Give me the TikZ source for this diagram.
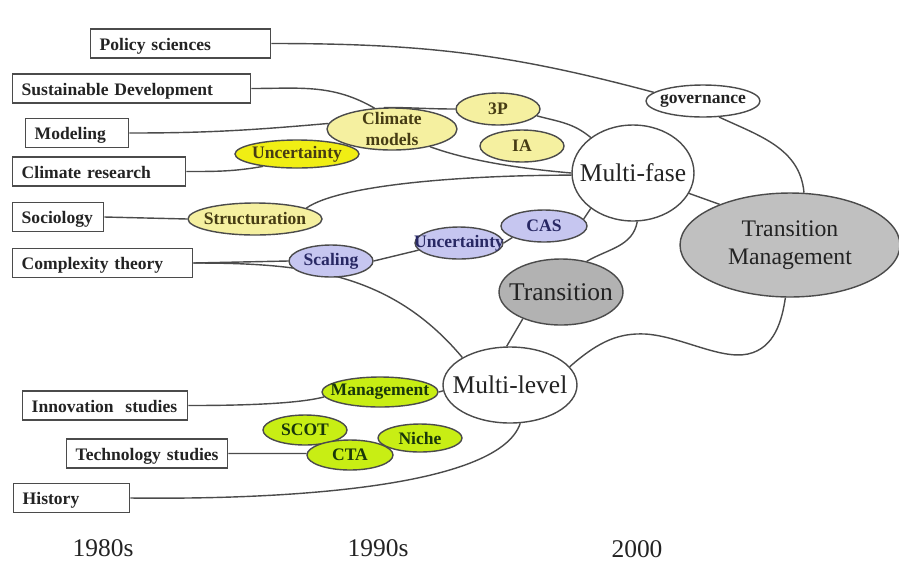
\documentclass[tikz,border=0pt]{standalone}
\usepackage{fontspec}
\setmainfont{Liberation Serif}
\usetikzlibrary{shapes.geometric}
\definecolor{linegray}{RGB}{75,75,75}
\definecolor{boxtext}{RGB}{35,35,35}
\definecolor{paleyellow}{RGB}{245,240,160}
\definecolor{brightyellow}{RGB}{240,238,20}
\definecolor{yellowtext}{RGB}{70,60,20}
\definecolor{lavender}{RGB}{198,198,240}
\definecolor{bluetext}{RGB}{40,40,100}
\definecolor{limegreen}{RGB}{200,238,20}
\definecolor{greentext}{RGB}{25,55,10}
\definecolor{midgray}{RGB}{178,178,178}
\definecolor{palegray}{RGB}{192,192,192}
\pgfdeclarelayer{background}
\pgfsetlayers{background,main}
\tikzset{
    topic/.style={draw=linegray, line width=0.8pt, anchor=west, align=left,
        inner xsep=0.18cm, inner ysep=0pt, minimum height=0.58cm,
        text height=8.6pt, text depth=1pt,
        font=\fontsize{10}{12}\selectfont\bfseries, text=boxtext},
    blob/.style={ellipse, draw=linegray, line width=0.8pt, inner sep=0pt},
    blobtext/.style={font=\fontsize{10}{11.5}\selectfont\bfseries, align=center},
    climblob/.style={blob, fill=paleyellow, label={[blobtext, text=yellowtext]center:#1}},
    hotblob/.style={blob, fill=brightyellow, label={[blobtext, text=yellowtext]center:#1}},
    complexblob/.style={blob, fill=lavender, label={[blobtext, text=bluetext]center:#1}},
    innoblob/.style={blob, fill=limegreen, label={[blobtext, text=greentext]center:#1}},
    plainblob/.style={blob, fill=white, label={[blobtext, text=boxtext]center:#1}},
    hub/.style={blob, label={[font=\fontsize{14.5}{17}\selectfont, align=center, text=boxtext]center:#1}},
    link/.style={draw=linegray, line width=0.8pt},
    year/.style={font=\fontsize{14.5}{17}\selectfont, text=boxtext}
}
\begin{document}
\begin{tikzpicture}[x=0.02cm, y=-0.02cm]
    \useasboundingbox (0,0) rectangle (899,562);
    \node[topic, text width=3.24cm] (policy) at (90,43.5) {Policy sciences};
    \node[topic, text width=4.4cm] (sustdev) at (12,88.5) {Sustainable Development};
    \node[topic, text width=1.7cm] (modeling) at (25,133) {Modeling};
    \node[topic, text width=3.1cm] (climres) at (12,171.5) {Climate research};
    \node[topic, text width=1.46cm] (sociology) at (12,217) {Sociology};
    \node[topic, text width=3.24cm] (complexity) at (12,263) {Complexity theory};
    \node[topic, text width=2.94cm] (innov) at (22,405.5) {Innovation\ \ studies};
    \node[topic, text width=2.86cm] (techstud) at (66,453.5) {Technology studies};
    \node[topic, text width=1.96cm] (history) at (13,498) {History};

    \node[climblob={Climate\\models}, minimum width=2.6cm, minimum height=0.84cm] (climmod) at (392,129) {};
    \node[hotblob={Uncertainty}, minimum width=2.48cm, minimum height=0.56cm] (uncclim) at (297,154) {};
    \node[climblob={3P}, minimum width=1.68cm, minimum height=0.64cm] (threep) at (498,109) {};
    \node[climblob={IA}, minimum width=1.68cm, minimum height=0.64cm] (ia) at (522,146) {};
    \node[climblob={Structuration}, minimum width=2.68cm, minimum height=0.64cm] (struct) at (255,219) {};
    \node[complexblob={Scaling}, minimum width=1.68cm, minimum height=0.64cm] (scaling) at (331,261) {};
    \node[complexblob={Uncertainty}, minimum width=1.76cm, minimum height=0.64cm] (unccas) at (459,243) {};
    \node[complexblob={CAS}, minimum width=1.72cm, minimum height=0.64cm] (cas) at (544,226) {};
    \node[plainblob={governance}, minimum width=2.28cm, minimum height=0.64cm] (gov) at (703,101) {};
    \node[hub={Multi-fase}, fill=white, minimum width=2.44cm, minimum height=1.92cm] (multifase) at (633,173) {};
    \node[blob, fill=palegray, minimum width=4.4cm, minimum height=2.08cm,
        label={[font=\fontsize{13.5}{16}\selectfont, align=center, text=boxtext]center:Transition\\Management}] (transman) at (790,245) {};
    \node[hub={Transition}, fill=midgray, minimum width=2.48cm, minimum height=1.32cm] (transition) at (561,292) {};
    \node[hub={Multi-level}, fill=white, minimum width=2.68cm, minimum height=1.52cm] (multilevel) at (510,385) {};
    \node[innoblob={Management}, minimum width=2.32cm, minimum height=0.6cm] (mgmt) at (380,392) {};
    \node[innoblob={SCOT}, minimum width=1.68cm, minimum height=0.6cm] (scot) at (305,430) {};
    \node[innoblob={CTA}, minimum width=1.72cm, minimum height=0.6cm] (cta) at (350,455) {};
    \node[innoblob={Niche}, minimum width=1.68cm, minimum height=0.56cm] (niche) at (420,438) {};

    \node[year] (eighties) at (103,548) {1980s};
    \node[year] (nineties) at (378,548) {1990s};
    \node[year] (twothousand) at (637,549) {2000};

    \begin{pgfonlayer}{background}
        \draw[link] (policy.east) to[out=0,in=165] (gov.170);
        \draw[link] (sustdev.east) to[out=0,in=150] (climmod.130);
        \draw[link] (climmod.110) to[out=0,in=180] (threep.west);
        \draw[link] (threep.-10) to[out=-15,in=140] (multifase.140);
        \draw[link] (modeling.east) to[out=0,in=185] (climmod.175);
        \draw[link] (climres.east) to[out=0,in=190] (uncclim.200);
        \draw[link] (climmod.-25) to[out=-20,in=175,looseness=0.8] (multifase.west);
        \draw[link] (sociology.east) -- (struct.west);
        \draw[link] (struct.12) to[out=35,in=180,out looseness=0.4] (multifase.182);
        \draw[link] (complexity.east) -- (scaling.west);
        \draw[link] (complexity.east) to[out=0,in=130] (multilevel.150);
        \draw[link] (scaling.east) -- (unccas.190);
        \draw[link] (unccas.east) -- (cas.200);
        \draw[link] (cas.10) -- (multifase.220);
        \draw[link] (multifase.-85) to[out=-100,in=30] (transition.50);
        \draw[link] (multifase.-20) -- (transman.150);
        \draw[link] (gov.-45) to[out=-25,in=95] (transman.75);
        \draw[link] (transition.215) -- (multilevel.95);
        \draw[link] (multilevel.17) .. controls (600,340) and (620,333) .. (645,334)
            .. controls (680,336) and (720,360) .. (748,354)
            .. controls (775,348) and (782,320) .. (transman.265);
        \draw[link] (innov.east) to[out=0,in=195,looseness=0.6] (mgmt.185);
        \draw[link] (mgmt.east) -- (multilevel.185);
        \draw[link] (techstud.east) -- (cta.178);
        \draw[link] (history.east) .. controls (300,500) and (500,485) .. (multilevel.-75);
    \end{pgfonlayer}
\end{tikzpicture}
\end{document}
